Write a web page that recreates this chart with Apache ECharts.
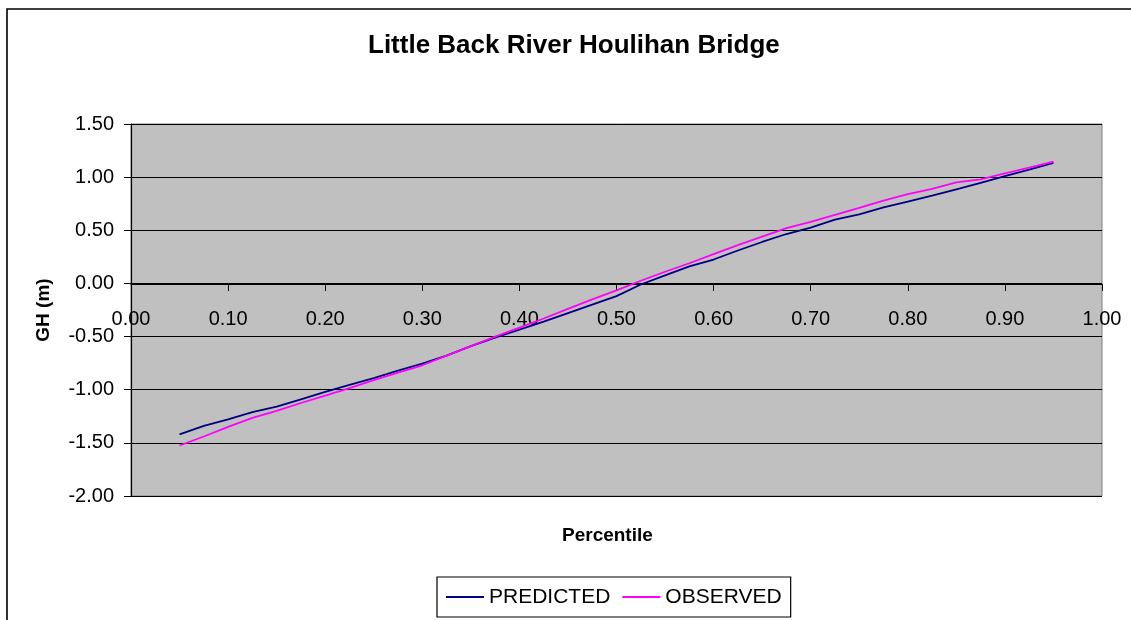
<!DOCTYPE html>
<html>
<head>
<meta charset="utf-8">
<script src="https://cdn.jsdelivr.net/npm/echarts@6/dist/echarts.min.js"></script>
<style>
html,body{margin:0;padding:0;background:#fff;}
#c{width:1131px;height:620px;}
</style>
</head>
<body>
<div id="c"></div>
<script>
var percentiles = [0.05,0.075,0.1,0.125,0.15,0.175,0.2,0.225,0.25,0.275,0.3,0.325,0.35,0.375,0.4,0.425,0.45,0.475,0.5,0.525,0.55,0.575,0.6,0.625,0.65,0.675,0.7,0.725,0.75,0.775,0.8,0.825,0.85,0.875,0.9,0.925,0.95];
var predicted = [-1.42,-1.34,-1.28,-1.21,-1.16,-1.09,-1.02,-0.955,-0.89,-0.82,-0.755,-0.68,-0.59,-0.51,-0.435,-0.36,-0.28,-0.20,-0.12,-0.01,0.075,0.16,0.225,0.31,0.39,0.465,0.525,0.60,0.65,0.715,0.77,0.825,0.885,0.945,1.01,1.07,1.135];
var observed = [-1.525,-1.44,-1.35,-1.265,-1.20,-1.125,-1.055,-0.985,-0.91,-0.84,-0.77,-0.68,-0.59,-0.50,-0.415,-0.33,-0.24,-0.15,-0.065,0.025,0.11,0.19,0.275,0.36,0.44,0.52,0.58,0.645,0.71,0.78,0.84,0.89,0.95,0.98,1.035,1.09,1.145];
var seriesNames = ['PREDICTED','OBSERVED'];
var titleText = 'Little Back River Houlihan Bridge';
var xAxisTitle = 'Percentile';
var yAxisTitle = 'GH (m)';

function pairs(xs, ys){ return xs.map(function(x,i){ return [x, ys[i]]; }); }
var FF = 'Arial, "Liberation Sans", sans-serif';

var chart = echarts.init(document.getElementById('c'));
chart.setOption({
  animation: false,
  backgroundColor: '#ffffff',
  title: [
    { text: titleText, left: 368, top: 33, padding: 0,
      textStyle: { fontFamily: FF, fontSize: 26, fontWeight: 'bold', color: '#000' } },
    { text: xAxisTitle, left: 562, top: 526, padding: 0,
      textStyle: { fontFamily: FF, fontSize: 19, fontWeight: 'bold', color: '#000' } }
  ],
  graphic: [
    { type: 'rect', shape: { x: 7, y: 9, width: 1200, height: 700 },
      style: { fill: 'none', stroke: '#000', lineWidth: 1.6 }, silent: true, z: 100 }
  ],
  legend: {
    data: seriesNames,
    left: 437, top: 577,
    padding: [9, 9, 9, 9],
    itemWidth: 38, itemHeight: 2, itemGap: 12,
    icon: 'rect',
    borderColor: '#000', borderWidth: 1.2, backgroundColor: '#fff',
    textStyle: { fontFamily: FF, fontSize: 21, color: '#000', lineHeight: 22 }
  },
  grid: {
    left: 131, top: 124, width: 971, height: 372,
    show: true, backgroundColor: '#C0C0C0', borderColor: '#808080', borderWidth: 1
  },
  xAxis: {
    type: 'value', min: 0, max: 1, interval: 0.1,
    offset: -212,
    axisLine: { show: true, onZero: false, lineStyle: { color: '#000', width: 1.2 } },
    axisTick: { show: true, length: 7, lineStyle: { color: '#000' } },
    axisLabel: { margin: 25, fontFamily: FF, fontSize: 20, color: '#000',
      formatter: function(v){ return v.toFixed(2); } },
    splitLine: { show: false }
  },
  yAxis: {
    type: 'value', min: -2, max: 1.5, interval: 0.5,
    name: yAxisTitle, nameLocation: 'middle', nameGap: 78, nameRotate: 90,
    nameTextStyle: { fontFamily: FF, fontSize: 19, fontWeight: 'bold', color: '#000' },
    axisLine: { show: true, lineStyle: { color: '#000', width: 1.2 } },
    axisTick: { show: true, length: 7, lineStyle: { color: '#000' } },
    axisLabel: { margin: 17, fontFamily: FF, fontSize: 20, color: '#000',
      formatter: function(v){ return v.toFixed(2); } },
    splitLine: { show: true, lineStyle: { color: '#000', width: 1.2 } }
  },
  series: [
    { name: seriesNames[0], type: 'line', data: pairs(percentiles, predicted),
      showSymbol: false, symbol: 'none', lineStyle: { color: '#000080', width: 1.8 },
      itemStyle: { color: '#000080' } },
    { name: seriesNames[1], type: 'line', data: pairs(percentiles, observed),
      showSymbol: false, symbol: 'none', lineStyle: { color: '#FF00FF', width: 1.8 },
      itemStyle: { color: '#FF00FF' } }
  ]
});
</script>
</body>
</html>
